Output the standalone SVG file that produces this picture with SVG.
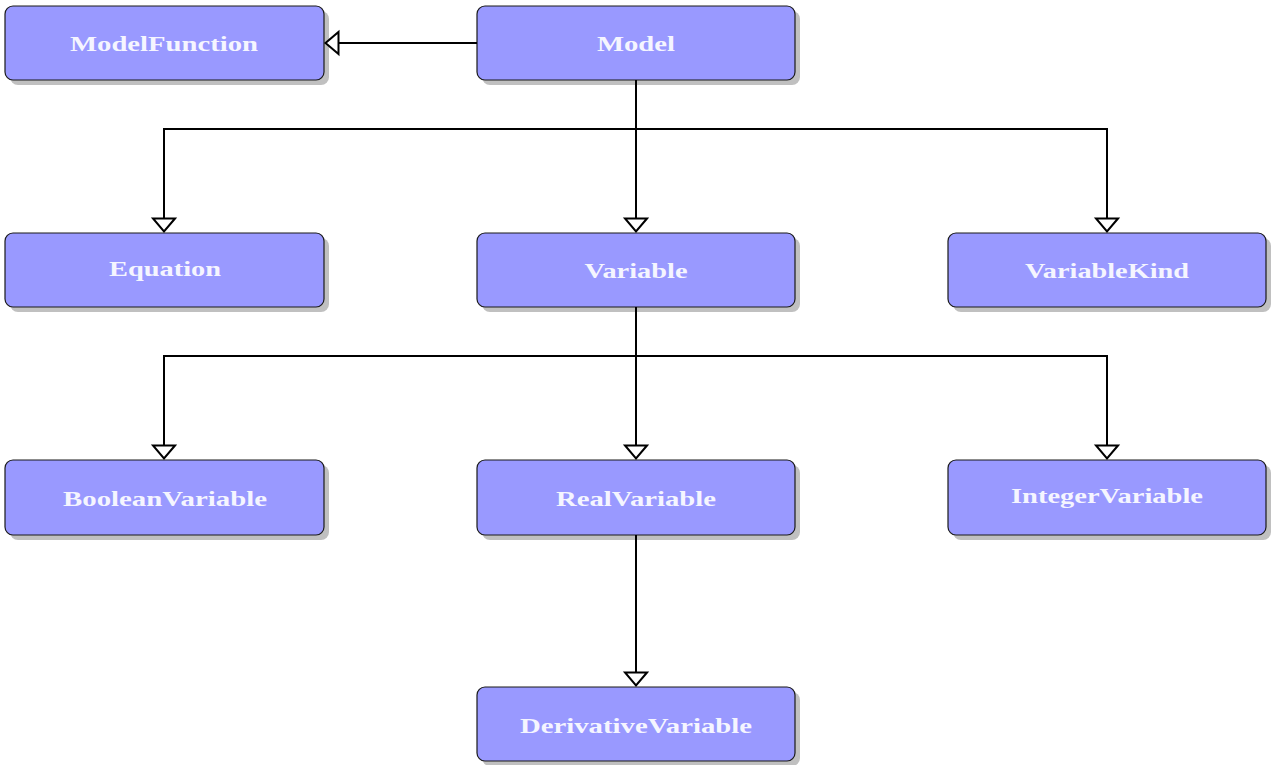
<svg xmlns="http://www.w3.org/2000/svg" width="1271" height="765" viewBox="0 0 1271 765">
  <defs>
    <style>
      .shadow { fill: #c0c0c0; }
      .box { fill: #9999ff; stroke: #1a1a1a; stroke-width: 1.2; }
      .label { font-family: "Liberation Serif", "Times New Roman", serif; font-weight: bold; font-size: 22px; fill: #f5f5ff; text-anchor: middle; }
      .edge { fill: none; stroke: #000; stroke-width: 2; }
    </style>
    <!-- open triangle head used for generalization edges -->
    <marker id="hollow" markerUnits="userSpaceOnUse" markerWidth="20" markerHeight="28" viewBox="-2 -3 20 28" refX="13.5" refY="11" orient="auto" overflow="visible">
      <path d="M0,0 L13,11 L0,22 Z" fill="#fff" stroke="#000" stroke-width="2" stroke-linejoin="miter"/>
    </marker>
  </defs>

  <rect width="1271" height="765" fill="#fff"/>

  <g id="ModelFunction">
    <rect class="shadow" x="10" y="11" width="319" height="74" rx="8"/>
    <rect class="box" x="5" y="6" width="319" height="74" rx="8"/>
    <text class="label" x="164" y="51" textLength="188" lengthAdjust="spacingAndGlyphs">ModelFunction</text>
  </g>
  <g id="Model">
    <rect class="shadow" x="482" y="11" width="318" height="74" rx="8"/>
    <rect class="box" x="477" y="6" width="318" height="74" rx="8"/>
    <text class="label" x="636" y="51" textLength="78" lengthAdjust="spacingAndGlyphs">Model</text>
  </g>

  <g id="Equation">
    <rect class="shadow" x="10" y="238" width="319" height="74" rx="8"/>
    <rect class="box" x="5" y="233" width="319" height="74" rx="8"/>
    <text class="label" x="165" y="276" textLength="112" lengthAdjust="spacingAndGlyphs">Equation</text>
  </g>
  <g id="Variable">
    <rect class="shadow" x="482" y="238" width="318" height="74" rx="8"/>
    <rect class="box" x="477" y="233" width="318" height="74" rx="8"/>
    <text class="label" x="636" y="278" textLength="103" lengthAdjust="spacingAndGlyphs">Variable</text>
  </g>
  <g id="VariableKind">
    <rect class="shadow" x="953" y="238" width="318" height="74" rx="8"/>
    <rect class="box" x="948" y="233" width="318" height="74" rx="8"/>
    <text class="label" x="1107" y="278" textLength="164" lengthAdjust="spacingAndGlyphs">VariableKind</text>
  </g>

  <g id="BooleanVariable">
    <rect class="shadow" x="10" y="465" width="319" height="75" rx="8"/>
    <rect class="box" x="5" y="460" width="319" height="75" rx="8"/>
    <text class="label" x="165" y="506" textLength="204" lengthAdjust="spacingAndGlyphs">BooleanVariable</text>
  </g>
  <g id="RealVariable">
    <rect class="shadow" x="482" y="465" width="318" height="75" rx="8"/>
    <rect class="box" x="477" y="460" width="318" height="75" rx="8"/>
    <text class="label" x="636" y="506" textLength="160" lengthAdjust="spacingAndGlyphs">RealVariable</text>
  </g>
  <g id="IntegerVariable">
    <rect class="shadow" x="953" y="465" width="318" height="75" rx="8"/>
    <rect class="box" x="948" y="460" width="318" height="75" rx="8"/>
    <text class="label" x="1107" y="503" textLength="192" lengthAdjust="spacingAndGlyphs">IntegerVariable</text>
  </g>

  <g id="DerivativeVariable">
    <rect class="shadow" x="482" y="692" width="318" height="74" rx="8"/>
    <rect class="box" x="477" y="687" width="318" height="74" rx="8"/>
    <text class="label" x="636" y="733" textLength="232" lengthAdjust="spacingAndGlyphs">DerivativeVariable</text>
  </g>

  <g id="connectors">
    <path class="edge" d="M477,43 H325" marker-end="url(#hollow)"/>
    <path class="edge" d="M636,80 V129 H164 V232" marker-end="url(#hollow)"/>
    <path class="edge" d="M636,80 V232" marker-end="url(#hollow)"/>
    <path class="edge" d="M636,129 H1107 V232" marker-end="url(#hollow)"/>
    <path class="edge" d="M636,307 V356 H164 V459" marker-end="url(#hollow)"/>
    <path class="edge" d="M636,307 V459" marker-end="url(#hollow)"/>
    <path class="edge" d="M636,356 H1107 V459" marker-end="url(#hollow)"/>
    <path class="edge" d="M636,535 V686" marker-end="url(#hollow)"/>
  </g>
</svg>
